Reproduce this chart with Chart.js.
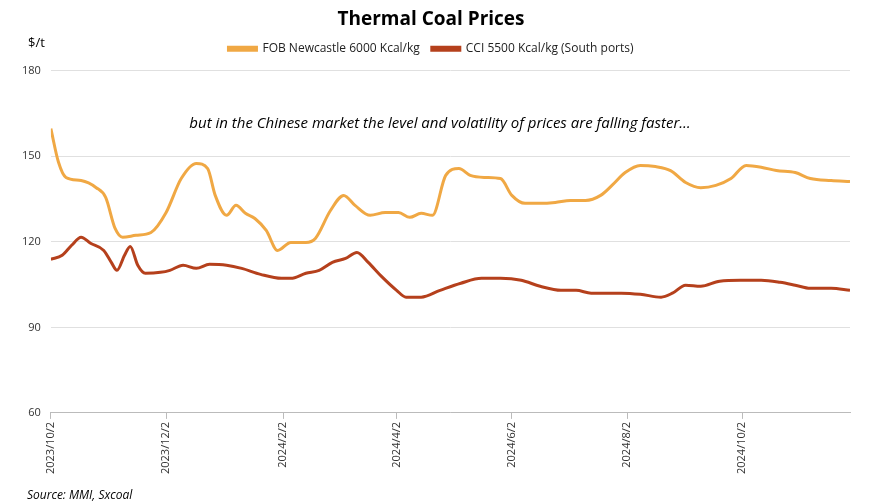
<!DOCTYPE html>
<html lang="en">
  <head>
    <meta charset="UTF-8" />
    <title>Thermal Coal Prices</title>
    <script src="https://cdn.jsdelivr.net/npm/chart.js"></script>
    <style>
      body { margin: 0; background: #fff; }
      .box { width: 870px; height: 504px; position: relative; }
    </style>
  </head>
  <body>
    <div class="box"><canvas id="myChart"></canvas></div>
    <script>
      // days after 2023/10/2
      const fobDays = [0, 4, 8, 16, 24, 29, 34, 38, 45, 53, 61, 69, 77, 83, 87, 93, 98, 103, 108, 114, 120, 127, 135, 140, 148, 155, 161, 169, 177, 184, 190, 196, 202, 209, 216, 222, 230, 238, 244, 251, 259, 267, 275, 283, 291, 297, 304, 312, 320, 328, 336, 344, 352, 360, 368, 376, 384, 394, 402, 413, 423];
      const fobVals = [159.7, 148, 142.6, 141.5, 139, 135.6, 124.7, 121.6, 122.3, 123.3, 130.3, 142.2, 147.5, 145.7, 136.3, 129.3, 132.8, 130, 128.2, 124, 117, 119.8, 119.8, 121.2, 131, 136.3, 132.8, 129.3, 130.3, 130.3, 128.6, 130, 129.3, 143.3, 145.7, 143.3, 142.6, 142.2, 136.3, 133.5, 133.5, 133.8, 134.5, 134.5, 136.3, 139.8, 144.3, 146.8, 146.4, 145, 140.8, 139, 139.8, 142.2, 146.8, 146.2, 145, 144.3, 142.2, 141.5, 141.2];
      const cciDays = [0, 6, 11, 16, 21, 28, 32, 35, 39, 42, 46, 50, 58, 63, 70, 77, 84, 93, 101, 111, 122, 127, 135, 142, 149, 156, 162, 168, 175, 183, 188, 196, 206, 217, 228, 238, 249, 259, 270, 278, 286, 302, 312, 323, 329, 336, 344, 354, 365, 376, 386, 394, 402, 413, 423];
      const cciVals = [113.9, 115.3, 118.8, 121.6, 119.5, 117, 112.8, 110, 115.3, 118.4, 111.8, 109, 109.3, 110, 111.8, 110.7, 112.1, 111.8, 110.7, 108.6, 107.2, 107.2, 109, 110, 112.8, 114.2, 116.3, 112.8, 107.9, 103, 100.6, 100.6, 103, 105.5, 107.2, 107.2, 106.5, 104.4, 103, 103, 102, 102, 101.6, 100.6, 102, 104.8, 104.4, 106.2, 106.5, 106.5, 105.8, 104.8, 103.7, 103.7, 103];
      const tickDays = [0, 61, 123, 183, 244, 305, 366];
      const tickLabels = ["2023/10/2", "2023/12/2", "2024/2/2", "2024/4/2", "2024/6/2", "2024/8/2", "2024/10/2"];
      const yTicks = [60, 90, 120, 150, 180];

      const pts = (xs, ys) => xs.map((x, i) => ({ x: x, y: ys[i] }));
      const font = "'Open Sans', 'Noto Sans', sans-serif";

      const extras = {
        id: "extras",
        afterDraw(chart) {
          const c = chart.ctx;
          c.save();
          c.fillStyle = "#000";
          c.font = "13px " + font;
          c.textAlign = "left";
          c.fillText("$/t", 28, 43);
          c.font = "italic 15px " + font;
          c.textAlign = "center";
          c.fillText("but in the Chinese market the level and volatility of prices are falling faster…", 440, 124);
          c.font = "italic 12px " + font;
          c.textAlign = "left";
          c.fillText("Source: MMI, Sxcoal", 27, 496);
          c.restore();
        }
      };

      new Chart(document.getElementById("myChart"), {
        type: "line",
        data: {
          datasets: [
            { label: "FOB Newcastle 6000 Kcal/kg", data: pts(fobDays, fobVals), borderColor: "#f0a844", backgroundColor: "#f0a844" },
            { label: "CCI 5500 Kcal/kg (South ports)", data: pts(cciDays, cciVals), borderColor: "#b5401c", backgroundColor: "#b5401c" }
          ]
        },
        options: {
          responsive: true,
          maintainAspectRatio: false,
          animation: false,
          layout: { padding: { left: 12, right: 20, top: 0, bottom: 27 } },
          elements: {
            point: { radius: 0 },
            line: { borderWidth: 3, cubicInterpolationMode: "monotone" }
          },
          plugins: {
            title: { display: true, text: "Thermal Coal Prices", color: "#000", font: { family: font, size: 19, weight: "bold" }, padding: { top: 8, bottom: 0 } },
            legend: {
              labels: { boxWidth: 28, boxHeight: 3, color: "#222", font: { family: font, size: 12 }, padding: 12 }
            },
            tooltip: { enabled: false }
          },
          scales: {
            x: {
              type: "linear",
              min: 0,
              max: 423,
              afterBuildTicks: (s) => { s.ticks = tickDays.map((v) => ({ value: v })); },
              ticks: {
                autoSkip: false,
                maxRotation: 90,
                minRotation: 90,
                color: "#333",
                font: { family: font, size: 11 },
                callback: (v) => tickLabels[tickDays.indexOf(v)]
              },
              grid: { display: true, drawOnChartArea: false, color: "#bbb", tickLength: 6 },
              border: { color: "#bbb" }
            },
            y: {
              min: 60,
              max: 180,
              afterBuildTicks: (s) => { s.ticks = yTicks.map((v) => ({ value: v })); },
              ticks: { color: "#333", font: { family: font, size: 11 }, padding: 10 },
              grid: { color: "#e0e0e0", drawTicks: false },
              border: { display: false }
            }
          }
        },
        plugins: [extras, { id: "gap", beforeInit(chart) { const f = chart.legend.fit; chart.legend.fit = function () { f.call(this); this.height += 6; }; } }]
      });
    </script>
  </body>
</html>
